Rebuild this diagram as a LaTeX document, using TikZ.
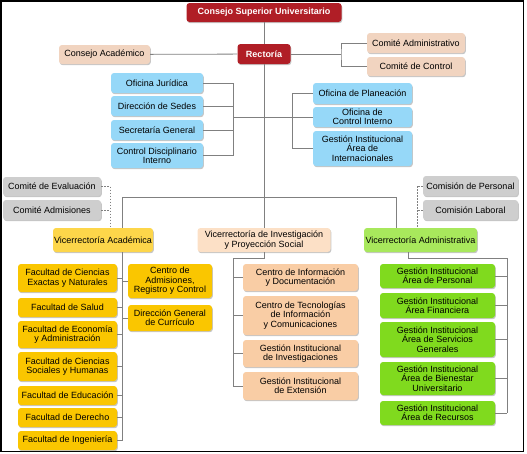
\documentclass[tikz,border=0pt]{standalone}
\usepackage{fontspec}
\setmainfont{Liberation Sans}
\usepackage{xcolor}
\usetikzlibrary{
    shapes,
    positioning,
    shadows,
    calc
}
\definecolor{rojo}{RGB}{176,30,38}
\definecolor{beige}{RGB}{241,212,192}
\definecolor{celeste}{RGB}{150,216,248}
\definecolor{gris}{RGB}{206,206,206}
\definecolor{amarillo}{RGB}{250,198,0}
\definecolor{amarilloclaro}{RGB}{253,214,74}
\definecolor{durazno}{RGB}{249,205,165}
\definecolor{duraznoclaro}{RGB}{252,224,198}
\definecolor{verde}{RGB}{128,218,30}
\definecolor{verdeclaro}{RGB}{168,232,92}
\definecolor{linea}{RGB}{128,128,128}

\begin{document}
\begin{tikzpicture}[x=1pt, y=-1pt, font=\fontsize{9}{9.4}\selectfont,
    box-node/.style={rectangle, rounded corners=3pt, align=center, inner sep=1pt,
                drop shadow={shadow xshift=0.8pt, shadow yshift=-1.2pt, opacity=0.45}},
    red-node/.style={box-node, fill=rojo, text=white, font=\fontsize{9}{9.4}\selectfont\bfseries},
    beige-node/.style={box-node, fill=beige},
    blue-node/.style={box-node, fill=celeste},
    grey-node/.style={box-node, fill=gris},
    yellow-node/.style={box-node, fill=amarillo},
    peach-node/.style={box-node, fill=durazno},
    green-node/.style={box-node, fill=verde},
    link/.style={draw=linea, line width=0.8pt},
    dot-link/.style={draw=linea, line width=0.8pt, dash pattern=on 1.5pt off 1.5pt}]
                \useasboundingbox (0,0) rectangle (527,453);
                \draw[line width=1.5pt] (0.75,0.75) rectangle (523.25,451.25);
                \node[red-node, minimum width=155pt, minimum height=19pt] (csu) at (264,12.5) {Consejo Superior Universitario};
                \node[red-node, minimum width=53pt, minimum height=20pt] (rect) at (264,54) {Rectoría};
                \node[beige-node, minimum width=91pt, minimum height=19pt] (cacad) at (104.5,54.5) {Consejo Académico};
                \node[beige-node, minimum width=98pt, minimum height=20pt] (cadm) at (416,43) {Comité Administrativo};
                \node[beige-node, minimum width=98pt, minimum height=19pt] (cctrl) at (416,66.5) {Comité de Control};
                \node[blue-node, minimum width=92pt, minimum height=20pt] (ojur) at (157,83) {Oficina Jurídica};
                \node[blue-node, minimum width=92pt, minimum height=20pt] (dsedes) at (157,106) {Dirección de Sedes};
                \node[blue-node, minimum width=92pt, minimum height=20pt] (sgen) at (157,130) {Secretaría General};
                \node[blue-node, minimum width=92pt, minimum height=25pt] (cdisc) at (157,155.5) {Control Disciplinario\\ Interno};
                \node[blue-node, minimum width=99pt, minimum height=21pt] (oplan) at (362.5,93.5) {Oficina de Planeación};
                \node[blue-node, minimum width=99pt, minimum height=20pt] (ocint) at (362.5,117) {Oficina de\\ Control Interno};
                \node[blue-node, minimum width=99pt, minimum height=35pt] (ginter) at (362.5,148.5) {Gestión Institucional\\ Área de\\ Internacionales};
                \node[grey-node, minimum width=98pt, minimum height=19pt] (ceval) at (52,186.5) {Comité de Evaluación};
                \node[grey-node, minimum width=98pt, minimum height=20pt] (cadmis) at (52,210) {Comité Admisiones};
                \node[grey-node, minimum width=95pt, minimum height=20pt] (cpers) at (470.5,186) {Comisión de Personal};
                \node[grey-node, minimum width=95pt, minimum height=20pt] (clab) at (470.5,210) {Comisión Laboral};
                \node[yellow-node, fill=amarilloclaro, minimum width=100pt, minimum height=24pt] (vacad) at (103,240) {Vicerrectoría Académica};
                \node[peach-node, fill=duraznoclaro, minimum width=133pt, minimum height=24pt] (vinv) at (264,240) {Vicerrectoría de Investigación\\ y Proyección Social};
                \node[green-node, fill=verdeclaro, minimum width=113pt, minimum height=24pt] (vadm) at (420.5,240) {Vicerrectoría Administrativa};
                \node[yellow-node, minimum width=99pt, minimum height=28pt] (fcen) at (67.5,278) {Facultad de Ciencias\\ Exactas y Naturales};
                \node[yellow-node, minimum width=99pt, minimum height=19pt] (fsal) at (67.5,307.5) {Facultad de Salud};
                \node[yellow-node, minimum width=99pt, minimum height=27pt] (feco) at (67.5,334.5) {Facultad de Economía\\ y Administración};
                \node[yellow-node, minimum width=99pt, minimum height=29pt] (fsoc) at (67.5,366.5) {Facultad de Ciencias\\ Sociales y Humanas};
                \node[yellow-node, minimum width=99pt, minimum height=19pt] (fedu) at (67.5,395.5) {Facultad de Educación};
                \node[yellow-node, minimum width=99pt, minimum height=19pt] (fder) at (67.5,417.5) {Facultad de Derecho};
                \node[yellow-node, minimum width=99pt, minimum height=19pt] (fing) at (67.5,440.5) {Facultad de Ingeniería};
                \node[yellow-node, minimum width=84pt, minimum height=34pt] (cadr) at (170,281) {Centro de\\ Admisiones,\\ Registro y Control};
                \node[yellow-node, minimum width=84pt, minimum height=26pt] (dgc) at (170,318) {Dirección General\\ de Currículo};
                \node[peach-node, minimum width=115pt, minimum height=27pt] (cid) at (300.5,277.5) {Centro de Información\\ y Documentación};
                \node[peach-node, minimum width=115pt, minimum height=39pt] (ctic) at (300.5,315.5) {Centro de Tecnologías\\ de Información\\ y Comunicaciones};
                \node[peach-node, minimum width=115pt, minimum height=27pt] (ginv) at (300.5,353.5) {Gestión Institucional\\ de Investigaciones};
                \node[peach-node, minimum width=115pt, minimum height=28pt] (gext) at (300.5,386) {Gestión Institucional\\ de Extensión};
                \node[green-node, minimum width=115pt, minimum height=24pt] (gper) at (437.5,276) {Gestión Institucional\\ Área de Personal};
                \node[green-node, minimum width=115pt, minimum height=25pt] (gfin) at (437.5,305.5) {Gestión Institucional\\ Área Financiera};
                \node[green-node, minimum width=115pt, minimum height=35pt] (gsg) at (437.5,339.5) {Gestión Institucional\\ Área de Servicios\\ Generales};
                \node[green-node, minimum width=115pt, minimum height=33pt] (gbien) at (437.5,378.5) {Gestión Institucional\\ Área de Bienestar\\ Universitario};
                \node[green-node, minimum width=115pt, minimum height=24pt] (grec) at (437.5,413) {Gestión Institucional\\ Área de Recursos};
                \coordinate (rb) at (341,54);
                \coordinate (lb) at (233,117);
                \coordinate (rbr) at (292,117);
                \coordinate (bar-l) at (122,197);
                \coordinate (bar-r) at (396,197);
                \coordinate (dot-l) at (110,200);
                \coordinate (dot-r) at (417,200);
                \coordinate (vi-j) at (233,258);
                \coordinate (vd-top) at (408,258);
                \coordinate (vd-j) at (507,258);
                \draw[link] (csu) -- (rect);
                \draw[link] (rect) -- (vinv);
                \draw[link] (cacad) -- (rect);
                \draw[link] (rect) -- (rb);
                \draw[link] (cadm.west) -| (rb) |- (cctrl.west);
                \foreach \n in {ojur,dsedes,sgen,cdisc} \draw[link] (\n.east) -| (lb);
                \draw[link] (lb) -- (rbr);
                \foreach \n in {oplan,ocint,ginter} \draw[link] (\n.west) -| (rbr);
                \draw[link] (bar-l |- vacad.north) -- (bar-l) -- (bar-r) -- (bar-r |- vadm.north);
                \draw[dot-link] (ceval.east) -| (dot-l |- vacad.north);
                \draw[dot-link] (cadmis.east) -- (dot-l |- cadmis.east);
                \draw[dot-link] (cpers.west) -| (dot-r |- vadm.north);
                \draw[dot-link] (clab.west) -- (dot-r |- clab.west);
                \draw[link] (bar-l |- vacad.south) -- (bar-l |- fing.east);
                \foreach \n in {fcen,fsal,feco,fsoc,fedu,fder,fing} \draw[link] (\n.east) -- (bar-l |- \n.east);
                \foreach \n in {cadr,dgc} \draw[link] (\n.west) -- (bar-l |- \n.west);
                \draw[link] (vinv.south) |- (vi-j) -- (vi-j |- gext.west);
                \foreach \n in {cid,ctic,ginv,gext} \draw[link] (\n.west) -- (vi-j |- \n.west);
                \draw[link] (vd-top |- vadm.south) -- (vd-top) -- (vd-j) -- (vd-j |- grec.east);
                \foreach \n in {gper,gfin,gsg,gbien,grec} \draw[link] (\n.east) -- (vd-j |- \n.east);
            \end{tikzpicture}
\end{document}
